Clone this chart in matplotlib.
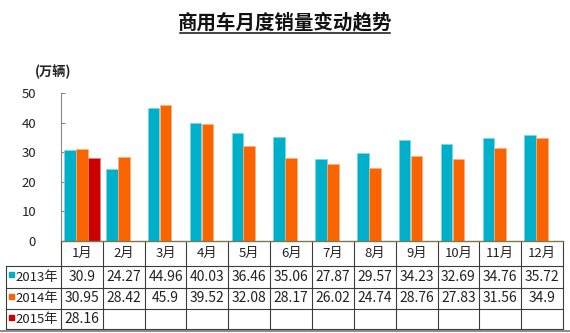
import matplotlib
matplotlib.use("Agg")
import matplotlib.pyplot as plt
import matplotlib.transforms as mtransforms
import numpy as np

plt.rcParams['font.family'] = ['Noto Sans CJK SC', 'DejaVu Sans']

title = "商用车月度销量变动趋势"
unit_label = "(万辆)"
months = ["1月", "2月", "3月", "4月", "5月", "6月", "7月", "8月", "9月", "10月", "11月", "12月"]
series_names = ["2013年", "2014年", "2015年"]
s2013 = [30.9, 24.27, 44.96, 40.03, 36.46, 35.06, 27.87, 29.57, 34.23, 32.69, 34.76, 35.72]
s2014 = [30.95, 28.42, 45.9, 39.52, 32.08, 28.17, 26.02, 24.74, 28.76, 27.83, 31.56, 34.9]
s2015 = [28.16]
series = [s2013, s2014, s2015]
colors = ["#00AFC9", "#F96400", "#CC0000"]
edge_colors = ["#7FD7E4", "#FDB07F", "#E57F7F"]
yticks = [0, 10, 20, 30, 40, 50]

W, H = 570, 333
fig = plt.figure(figsize=(W / 100, H / 100), dpi=100)

def fx(px):
    return px / W

def fy(py):
    return 1 - py / H

ax_left, ax_right, ax_top, ax_bottom = 61, 563, 93, 241
ax = fig.add_axes([fx(ax_left), fy(ax_bottom), fx(ax_right - ax_left), (ax_bottom - ax_top) / H])

n = len(months)
x = np.arange(n)
width = 0.275
offsets = [-0.285, 0.0, 0.285]
for k, vals in enumerate(series):
    xs = x[:len(vals)] + offsets[k]
    ax.bar(xs, vals, width=width, color=colors[k], edgecolor=edge_colors[k], linewidth=0.5, zorder=2)

ax.set_xlim(-0.5, n - 0.5)
ax.set_ylim(0, 50)
ax.set_yticks(yticks)
ax.set_yticklabels([str(t) for t in yticks], fontsize=9.5, color="#222222")
ax.tick_params(axis='y', direction='in', length=3, pad=18, color="#888888", width=0.8)
ax.set_xticks([])
for s in ['top', 'right']:
    ax.spines[s].set_visible(False)
ax.spines['left'].set_color("#888888")
ax.spines['left'].set_linewidth(0.8)
ax.spines['bottom'].set_color("#7A7A50")
ax.spines['bottom'].set_linewidth(1.0)

# Title with underline
fig.text(fx(285), fy(22.5), title, ha='center', va='center', fontsize=14, fontweight='bold', color="#111111")
fig.add_artist(plt.Line2D([fx(180), fx(390)], [fy(32.5), fy(32.5)], color="#111111", lw=1.1))

# Unit label
fig.text(fx(35), fy(72), unit_label, ha='left', va='center', fontsize=9.5, fontweight='bold', color="#222222")

# Table
blend = mtransforms.blended_transform_factory(ax.transData, fig.transFigure)
line_c = "#3C3C3C"
lw = 0.8
header_top, header_bot = 241, 266
row_bounds = [266, 288, 309, 329]
tab_left = 6
label_right = ax_left

for i in range(n + 1):
    xv = i - 0.5
    ax.plot([xv, xv], [fy(header_top), fy(row_bounds[-1])], transform=blend, color=line_c, lw=lw, clip_on=False)
for yb in [header_bot] + row_bounds[1:]:
    ax.plot([-0.5, n - 0.5], [fy(yb), fy(yb)], transform=blend, color=line_c, lw=lw, clip_on=False)
for yb in row_bounds:
    fig.add_artist(plt.Line2D([fx(tab_left), fx(label_right)], [fy(yb), fy(yb)], color=line_c, lw=lw))
fig.add_artist(plt.Line2D([fx(tab_left), fx(tab_left)], [fy(row_bounds[0]), fy(row_bounds[-1])], color=line_c, lw=lw))

# page bottom line
fig.add_artist(plt.Line2D([0, 1], [fy(330.8), fy(330.8)], color="#777777", lw=1.2))

for i, m in enumerate(months):
    ax.text(i, fy((header_top + header_bot) / 2), m, transform=blend, ha='center', va='center',
            fontsize=9.5, color="#222222", clip_on=False)

for k, vals in enumerate(series):
    yc = fy((row_bounds[k] + row_bounds[k + 1]) / 2)
    fig.add_artist(plt.Rectangle((fx(9), fy(row_bounds[k] + 11)), fx(5), 5 / H, color=colors[k]))
    fig.text(fx(15), yc, series_names[k], ha='left', va='center', fontsize=9.5, color="#222222")
    for i, v in enumerate(vals):
        ax.text(i, yc, f"{v:g}", transform=blend, ha='center', va='center', fontsize=10,
                color="#222222", clip_on=False)

fig.savefig("out.png", dpi=100)
